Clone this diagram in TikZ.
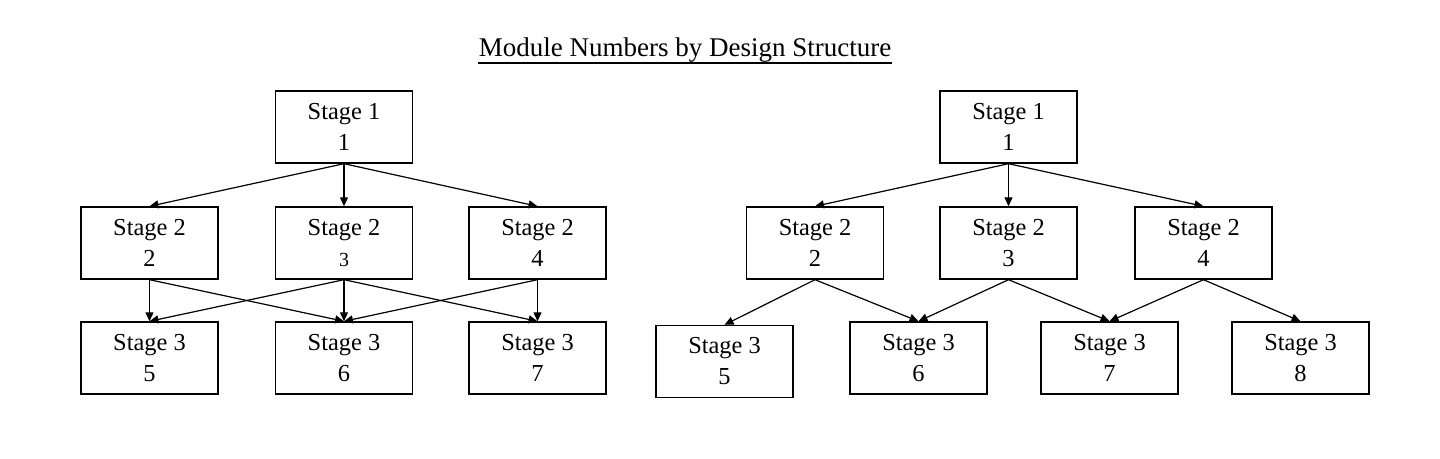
\documentclass[tikz,border=0pt]{standalone}
\usepackage{fontspec}
\setmainfont{Liberation Serif}
\usetikzlibrary{arrows.meta}
\begin{document}
\begin{tikzpicture}[x=0.5pt, y=-0.5pt,
        stagebox/.style={draw, line width=0.7pt, minimum width=68.5pt, minimum height=36pt,
            inner sep=0pt, align=center, font=\fontsize{12.2}{15.5}\selectfont},
        link/.style={-{Triangle[length=4.5pt, width=4pt]}, line width=0.6pt}]
        \useasboundingbox (0, 0) rectangle (1440, 459);
        \node[anchor=base, inner sep=0pt, font=\fontsize{13.5}{16}\selectfont] (title) at (685, 57) {Module Numbers by Design Structure};
        \draw[line width=0.9pt] ([yshift=-3pt]title.base west) -- ([yshift=-3pt]title.base east);
        % left structure
        \node[stagebox] (l1) at (344, 127) {Stage 1\\1};
        \node[stagebox] (l2) at (149.5, 243) {Stage 2\\2};
        \node[stagebox] (l3) at (344, 243) {Stage 2\\{\fontsize{10}{12}\selectfont 3}};
        \node[stagebox] (l4) at (537.5, 243) {Stage 2\\4};
        \node[stagebox] (l5) at (149.5, 358) {Stage 3\\5};
        \node[stagebox] (l6) at (344, 358) {Stage 3\\6};
        \node[stagebox] (l7) at (537.5, 358) {Stage 3\\7};
        \draw[link] (l1.south) -- (l2.north);
        \draw[link] (l1.south) -- (l3.north);
        \draw[link] (l1.south) -- (l4.north);
        \draw[link] (l2.south) -- (l5.north);
        \draw[link] (l2.south) -- (l6.north);
        \draw[link] (l3.south) -- (l5.north);
        \draw[link] (l3.south) -- (l6.north);
        \draw[link] (l3.south) -- (l7.north);
        \draw[link] (l4.south) -- (l6.north);
        \draw[link] (l4.south) -- (l7.north);
        % right structure
        \node[stagebox] (r1) at (1008.5, 127) {Stage 1\\1};
        \node[stagebox] (r2) at (815, 243) {Stage 2\\2};
        \node[stagebox] (r3) at (1008.5, 243) {Stage 2\\3};
        \node[stagebox] (r4) at (1203.5, 243) {Stage 2\\4};
        \node[stagebox] (r5) at (724.5, 361.5) {Stage 3\\5};
        \node[stagebox] (r6) at (918.5, 358) {Stage 3\\6};
        \node[stagebox] (r7) at (1109.5, 358) {Stage 3\\7};
        \node[stagebox] (r8) at (1300.5, 358) {Stage 3\\8};
        \draw[link] (r1.south) -- (r2.north);
        \draw[link] (r1.south) -- (r3.north);
        \draw[link] (r1.south) -- (r4.north);
        \draw[link] (r2.south) -- (r5.north);
        \draw[link] (r2.south) -- (r6.north);
        \draw[link] (r3.south) -- (r6.north);
        \draw[link] (r3.south) -- (r7.north);
        \draw[link] (r4.south) -- (r7.north);
        \draw[link] (r4.south) -- (r8.north);
    \end{tikzpicture}
\end{document}
